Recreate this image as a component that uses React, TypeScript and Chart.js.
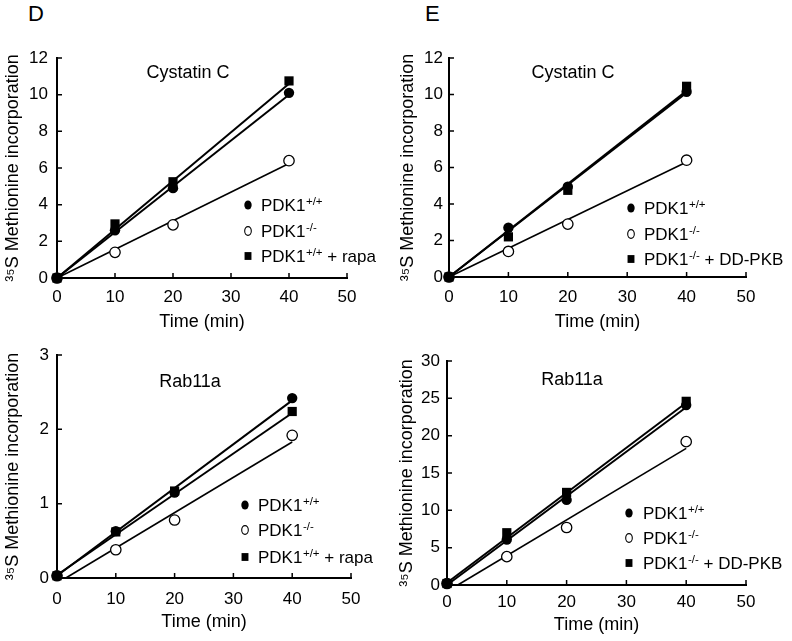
import React, { useEffect, useRef } from "react";
import { Chart, registerables } from "chart.js";

Chart.register(...registerables);

const FONT = "'Liberation Sans', Arial, Helvetica, sans-serif";
Chart.defaults.font.family = FONT;
Chart.defaults.color = "#000";

// ---------- data ----------
const timePoints = [0, 10, 20, 40];
const xTickValues = [0, 10, 20, 30, 40, 50];

// Panel D, Cystatin C
const cysD_wt = [0, 2.6, 4.9, 10.1];
const cysD_ko = [0, 1.4, 2.9, 6.4];
const cysD_rapa = [0, 2.95, 5.25, 10.75];
const cysD_fitWt = [{ x: 0, y: 0 }, { x: 40, y: 10.0 }];
const cysD_fitKo = [{ x: 0, y: 0 }, { x: 40, y: 6.25 }];
const cysD_fitRapa = [{ x: 0, y: 0 }, { x: 40, y: 10.6 }];

// Panel E, Cystatin C
const cysE_wt = [0, 2.7, 4.95, 10.15];
const cysE_ko = [0, 1.4, 2.9, 6.4];
const cysE_dd = [0, 2.2, 4.75, 10.45];
const cysE_fitWt = [{ x: 0, y: 0 }, { x: 40, y: 10.1 }];
const cysE_fitKo = [{ x: 0, y: 0 }, { x: 40, y: 6.3 }];
const cysE_fitDd = [{ x: 0, y: 0 }, { x: 40, y: 10.2 }];

// Panel D, Rab11a
const rabD_wt = [0.03, 0.63, 1.15, 2.42];
const rabD_ko = [0.03, 0.38, 0.78, 1.92];
const rabD_rapa = [0.03, 0.62, 1.17, 2.24];
const rabD_fitWt = [{ x: 0, y: 0.03 }, { x: 40, y: 2.39 }];
const rabD_fitKo = [{ x: 1.5, y: 0 }, { x: 40, y: 1.83 }];
const rabD_fitRapa = [{ x: 0, y: 0.04 }, { x: 40, y: 2.22 }];

// Panel E, Rab11a
const rabE_wt = [0.2, 6.1, 11.4, 24.1];
const rabE_ko = [0.2, 3.8, 7.7, 19.2];
const rabE_dd = [0.2, 7.0, 12.4, 24.6];
const rabE_fitWt = [{ x: 0, y: 0 }, { x: 40, y: 23.8 }];
const rabE_fitKo = [{ x: 1.8, y: 0 }, { x: 40, y: 18.3 }];
const rabE_fitDd = [{ x: 0, y: 0.3 }, { x: 40, y: 24.4 }];

// legend labels: [base, superscript, rest]
const legendD = [
  ["PDK1", "+/+", ""],
  ["PDK1", "-/-", ""],
  ["PDK1", "+/+", " + rapa"],
];
const legendE = [
  ["PDK1", "+/+", ""],
  ["PDK1", "-/-", ""],
  ["PDK1", "-/-", " + DD-PKB"],
];
const markerKinds = ["fill", "open", "square"];

const xTitle = "Time (min)";
const yTitle = "\u00B3\u2075S Methionine incorporation";

// ---------- layout specs ----------
interface PanelSpec {
  left: number; top: number; width: number; height: number;
  area: { left: number; top: number; right: number; bottom: number };
  yMax: number; yStep: number;
  xTickPad: number; xTitlePad: number; yTickPad: number; yTitlePad: number;
  label: string; labelX: number; labelY: number;
  legend: string[][]; legMarkX: number; legTextX: number; legRows: number[];
  series: number[][]; fits: { x: number; y: number }[][];
}

const panels: PanelSpec[] = [
  {
    left: 0, top: 30, width: 396, height: 305,
    area: { left: 57, top: 28, right: 347, bottom: 248 },
    yMax: 12, yStep: 2, xTickPad: 9, xTitlePad: 2, yTickPad: 9, yTitlePad: 2,
    label: "Cystatin C", labelX: 188, labelY: 43,
    legend: legendD, legMarkX: 248, legTextX: 261, legRows: [175, 201, 226],
    series: [cysD_wt, cysD_ko, cysD_rapa],
    fits: [cysD_fitWt, cysD_fitKo, cysD_fitRapa],
  },
  {
    left: 396, top: 30, width: 396, height: 305,
    area: { left: 53, top: 28, right: 350, bottom: 247 },
    yMax: 12, yStep: 2, xTickPad: 10, xTitlePad: 2, yTickPad: 6, yTitlePad: 1,
    label: "Cystatin C", labelX: 177, labelY: 43,
    legend: legendE, legMarkX: 235, legTextX: 248, legRows: [178, 204, 229],
    series: [cysE_wt, cysE_ko, cysE_dd],
    fits: [cysE_fitWt, cysE_fitKo, cysE_fitDd],
  },
  {
    left: 0, top: 335, width: 396, height: 306,
    area: { left: 57, top: 20, right: 351, bottom: 243 },
    yMax: 3, yStep: 1, xTickPad: 11, xTitlePad: 8, yTickPad: 8, yTitlePad: 2,
    label: "Rab11a", labelX: 190, labelY: 47,
    legend: legendD, legMarkX: 245, legTextX: 258, legRows: [170, 195, 222],
    series: [rabD_wt, rabD_ko, rabD_rapa],
    fits: [rabD_fitWt, rabD_fitKo, rabD_fitRapa],
  },
  {
    left: 396, top: 335, width: 396, height: 306,
    area: { left: 51, top: 26, right: 350, bottom: 250 },
    yMax: 30, yStep: 5, xTickPad: 7, xTitlePad: 5, yTickPad: 7, yTitlePad: 0,
    label: "Rab11a", labelX: 176, labelY: 45,
    legend: legendE, legMarkX: 233, legTextX: 247, legRows: [178, 203, 228],
    series: [rabE_wt, rabE_ko, rabE_dd],
    fits: [rabE_fitWt, rabE_fitKo, rabE_fitDd],
  },
];

function drawMarker(ctx: CanvasRenderingContext2D, kind: string, x: number, y: number, s: number) {
  ctx.save();
  ctx.fillStyle = "#000";
  ctx.strokeStyle = "#000";
  if (kind === "fill") {
    ctx.beginPath();
    ctx.ellipse(x, y, s * 0.8, s, 0, 0, Math.PI * 2);
    ctx.fill();
  } else if (kind === "open") {
    ctx.lineWidth = 1.1;
    ctx.beginPath();
    ctx.ellipse(x, y, s * 0.72, s * 0.95, 0, 0, Math.PI * 2);
    ctx.fillStyle = "#fff";
    ctx.fill();
    ctx.stroke();
  } else {
    ctx.fillRect(x - s * 0.75, y - s * 0.85, s * 1.5, s * 1.7);
  }
  ctx.restore();
}

function makeDecor(p: PanelSpec) {
  return {
    id: "decor",
    afterDraw(chart: any) {
      const ctx: CanvasRenderingContext2D = chart.ctx;
      const xs = chart.scales.x;
      const ys = chart.scales.y;
      const { left, bottom } = chart.chartArea;
      ctx.save();
      ctx.strokeStyle = "#000";
      ctx.lineWidth = 1.5;
      ctx.beginPath();
      xs.ticks.forEach((t: any) => {
        const px = xs.getPixelForValue(t.value);
        ctx.moveTo(px, bottom);
        ctx.lineTo(px, bottom - 5);
      });
      ys.ticks.forEach((t: any) => {
        const py = ys.getPixelForValue(t.value);
        ctx.moveTo(left, py);
        ctx.lineTo(left + 5, py);
      });
      ctx.stroke();

      // panel label
      ctx.fillStyle = "#000";
      ctx.font = `18px ${FONT}`;
      ctx.textAlign = "center";
      ctx.textBaseline = "middle";
      ctx.fillText(p.label, p.labelX, p.labelY);

      // legend
      p.legend.forEach((parts, i) => {
        const y = p.legRows[i];
        drawMarker(ctx, markerKinds[i], p.legMarkX, y, 4.6);
        ctx.textAlign = "left";
        ctx.textBaseline = "alphabetic";
        ctx.font = `17px ${FONT}`;
        const base = y + 6;
        let x = p.legTextX;
        ctx.fillText(parts[0], x, base);
        x += ctx.measureText(parts[0]).width + 0.5;
        ctx.font = `11.5px ${FONT}`;
        ctx.fillText(parts[1], x, base - 6.5);
        x += ctx.measureText(parts[1]).width;
        ctx.font = `17px ${FONT}`;
        if (parts[2]) ctx.fillText(parts[2], x, base);
      });
      ctx.restore();
    },
  };
}

function buildChart(canvas: HTMLCanvasElement, p: PanelSpec) {
  const styles = [
    { pointStyle: "circle", pointRadius: 5.2, backgroundColor: "#000", borderWidth: 0, order: 1 },
    { pointStyle: "circle", pointRadius: 5.2, backgroundColor: "#fff", borderWidth: 1.3, order: 3 },
    { pointStyle: "rect", pointRadius: 6.5, backgroundColor: "#000", borderWidth: 0, order: 2 },
  ];
  const fitWidths = [2, 1.6, 2];
  const datasets: any[] = [];
  p.fits.forEach((f, i) => {
    datasets.push({
      data: f,
      showLine: true,
      borderColor: "#000",
      borderWidth: fitWidths[i],
      pointRadius: 0,
      order: 10,
      clip: false,
      fill: false,
    });
  });
  p.series.forEach((vals, i) => {
    datasets.push({
      data: timePoints.map((t, j) => ({ x: t, y: vals[j] })),
      showLine: false,
      borderColor: "#000",
      clip: false,
      ...styles[i],
    });
  });
  const xAxisH = p.height - p.area.bottom;
  return new Chart(canvas, {
    type: "scatter",
    data: { datasets },
    options: {
      responsive: false,
      animation: false,
      devicePixelRatio: 1,
      layout: { padding: { left: 0, top: p.area.top, right: p.width - p.area.right, bottom: 0 } },
      plugins: { legend: { display: false }, tooltip: { enabled: false } },
      events: [],
      scales: {
        x: {
          type: "linear",
          min: 0,
          max: 50,
          afterBuildTicks: (s: any) => {
            s.ticks = xTickValues.map((v) => ({ value: v }));
          },
          ticks: { color: "#000", font: { size: 17 }, padding: p.xTickPad, maxRotation: 0, autoSkip: false },
          grid: { display: false, drawTicks: false },
          border: { display: true, color: "#000", width: 2 },
          title: { display: true, text: xTitle, color: "#000", font: { size: 18 }, padding: { top: 0, bottom: p.xTitlePad } },
          afterFit: (s: any) => { s.height = xAxisH; },
        },
        y: {
          type: "linear",
          min: 0,
          max: p.yMax,
          ticks: { stepSize: p.yStep, color: "#000", font: { size: 17 }, padding: p.yTickPad },
          grid: { display: false, drawTicks: false },
          border: { display: true, color: "#000", width: 2 },
          title: { display: true, text: yTitle, color: "#000", font: { size: 18 }, padding: { top: p.yTitlePad, bottom: 0 } },
          afterFit: (s: any) => { s.width = p.area.left; },
        },
      },
    } as any,
    plugins: [makeDecor(p)],
  });
}

function Panel({ p }: { p: PanelSpec }) {
  const ref = useRef<HTMLCanvasElement | null>(null);
  useEffect(() => {
    if (!ref.current) return;
    const c = buildChart(ref.current, p);
    return () => c.destroy();
  }, [p]);
  return (
    <canvas
      ref={ref}
      width={p.width}
      height={p.height}
      style={{ position: "absolute", left: p.left, top: p.top, width: p.width, height: p.height }}
    />
  );
}

export default function App() {
  return (
    <div style={{ position: "absolute", left: 0, top: 0, width: 792, height: 641, background: "#fff", fontFamily: FONT }}>
      <div style={{ position: "absolute", left: 28, top: 3, fontSize: 22, lineHeight: "22px", color: "#000" }}>D</div>
      <div style={{ position: "absolute", left: 425, top: 3, fontSize: 22, lineHeight: "22px", color: "#000" }}>E</div>
      {panels.map((p, i) => (
        <Panel key={i} p={p} />
      ))}
    </div>
  );
}
